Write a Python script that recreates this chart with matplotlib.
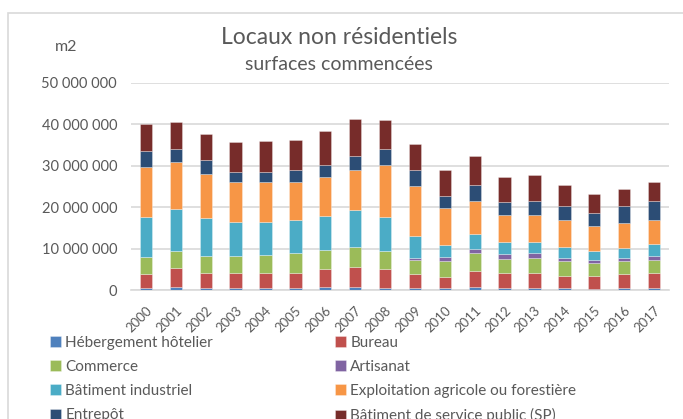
import matplotlib
matplotlib.use("Agg")
import matplotlib.pyplot as plt
from matplotlib.patches import Rectangle
from matplotlib.ticker import FuncFormatter
import numpy as np

plt.rcParams['font.family'] = ['Lato', 'DejaVu Sans']

years = [str(y) for y in range(2000, 2018)]

# surfaces in millions of m2
hebergement = [0.4, 0.65, 0.5, 0.4, 0.55, 0.5, 0.65, 0.7, 0.55, 0.4, 0.5, 0.8, 0.5, 0.55, 0.5, 0.3, 0.5, 0.55]
bureau = [3.55, 4.55, 3.7, 3.6, 3.65, 3.5, 4.35, 4.8, 4.55, 3.4, 2.7, 3.9, 3.5, 3.65, 3.0, 3.2, 3.3, 3.65]
commerce = [4.05, 4.2, 4.1, 4.2, 4.3, 5.0, 4.7, 5.0, 4.4, 3.5, 3.7, 4.2, 3.5, 3.5, 3.5, 3.0, 3.1, 3.1]
artisanat = [0, 0, 0, 0, 0, 0, 0, 0, 0, 0.4, 1.0, 0.9, 1.1, 1.2, 0.8, 0.8, 0.8, 1.0]
industriel = [9.7, 10.2, 9.0, 8.3, 8.0, 7.8, 8.1, 8.9, 8.2, 5.4, 2.9, 3.8, 3.1, 2.8, 2.7, 2.2, 2.5, 2.7]
agricole = [12.1, 11.4, 10.6, 9.7, 9.5, 9.2, 9.5, 9.7, 12.5, 12.1, 8.9, 7.9, 6.4, 6.4, 6.4, 5.9, 6.1, 5.8]
entrepot = [3.7, 3.0, 3.5, 2.4, 2.6, 3.0, 2.9, 3.2, 3.8, 3.9, 3.1, 3.8, 3.1, 3.5, 3.3, 3.2, 3.9, 4.7]
service_public = [6.7, 6.6, 6.3, 7.1, 7.4, 7.2, 8.2, 9.0, 7.0, 6.2, 6.1, 7.1, 6.1, 6.1, 5.1, 4.5, 4.3, 4.5]

series = [
    ("Hébergement hôtelier", hebergement, "#4F81BD"),
    ("Bureau", bureau, "#C0504D"),
    ("Commerce", commerce, "#9BBB59"),
    ("Artisanat", artisanat, "#8064A2"),
    ("Bâtiment industriel", industriel, "#4BACC6"),
    ("Exploitation agricole ou forestière", agricole, "#F79646"),
    ("Entrepôt", entrepot, "#2C4D75"),
    ("Bâtiment de service public (SP)", service_public, "#772C2A"),
]

text_color = "#595959"
grid_color = "#d9d9d9"

fig = plt.figure(figsize=(6.83, 4.19), dpi=100)
W, H = 683, 419

# chart frame
fig.patches.append(Rectangle((8 / W, -0.2), 1.2, 1.2 - 13 / H, transform=fig.transFigure,
                             fill=False, edgecolor=grid_color, linewidth=1.2))

ax = fig.add_axes([131 / W, 1 - 290 / H, (669 - 131) / W, (290 - 83) / H])

x = np.arange(len(years))
bottom = np.zeros(len(years))
handles = []
for name, vals, col in series:
    v = np.array(vals) * 1e6
    b = ax.bar(x, v, 0.41, bottom=bottom, color=col, label=name,
               edgecolor=(1, 1, 1, 0.35), linewidth=0.6, zorder=3)
    handles.append(b)
    bottom += v

ax.set_xlim(-0.5, len(years) - 0.5)
ax.set_ylim(0, 50e6)
ax.set_yticks(np.arange(0, 50e6 + 1, 10e6))
ax.yaxis.set_major_formatter(FuncFormatter(lambda v, p: f"{int(v):,}".replace(",", " ")))
ax.grid(axis='y', color=grid_color, linewidth=1.2, zorder=0)
for s in ['top', 'right', 'left']:
    ax.spines[s].set_visible(False)
ax.spines['bottom'].set_color(grid_color)
ax.spines['bottom'].set_linewidth(1.2)
ax.tick_params(axis='both', length=0, colors=text_color)
ax.tick_params(axis='y', pad=10, labelsize=10.5)
ax.set_xticks(x)
ax.set_xticklabels(years, rotation=45, ha='right', rotation_mode='anchor')
ax.tick_params(axis='x', pad=10, labelsize=9.5)

fig.text(339 / W, 1 - 38 / H, "Locaux non résidentiels", ha='center', va='center',
         fontsize=16.5, color=text_color)
fig.text(339 / W, 1 - 64 / H, "surfaces commencées", ha='center', va='center',
         fontsize=14, color=text_color)
fig.text(66 / W, 1 - 47 / H, "m2", ha='center', va='center', fontsize=11.5, color=text_color)

# legend in two columns, filled row by row
leg_kw = dict(loc='upper left', frameon=False, fontsize=11, labelcolor=text_color,
              handlelength=0.7, handleheight=0.7, handletextpad=0.3, labelspacing=0.66,
              borderaxespad=0, borderpad=0)
leg1 = fig.legend(handles=handles[0::2], bbox_to_anchor=(50 / W, 1 - 336 / H), **leg_kw)
leg2 = fig.legend(handles=handles[1::2], bbox_to_anchor=(335 / W, 1 - 336 / H), **leg_kw)

fig.savefig("out.png", dpi=100)
